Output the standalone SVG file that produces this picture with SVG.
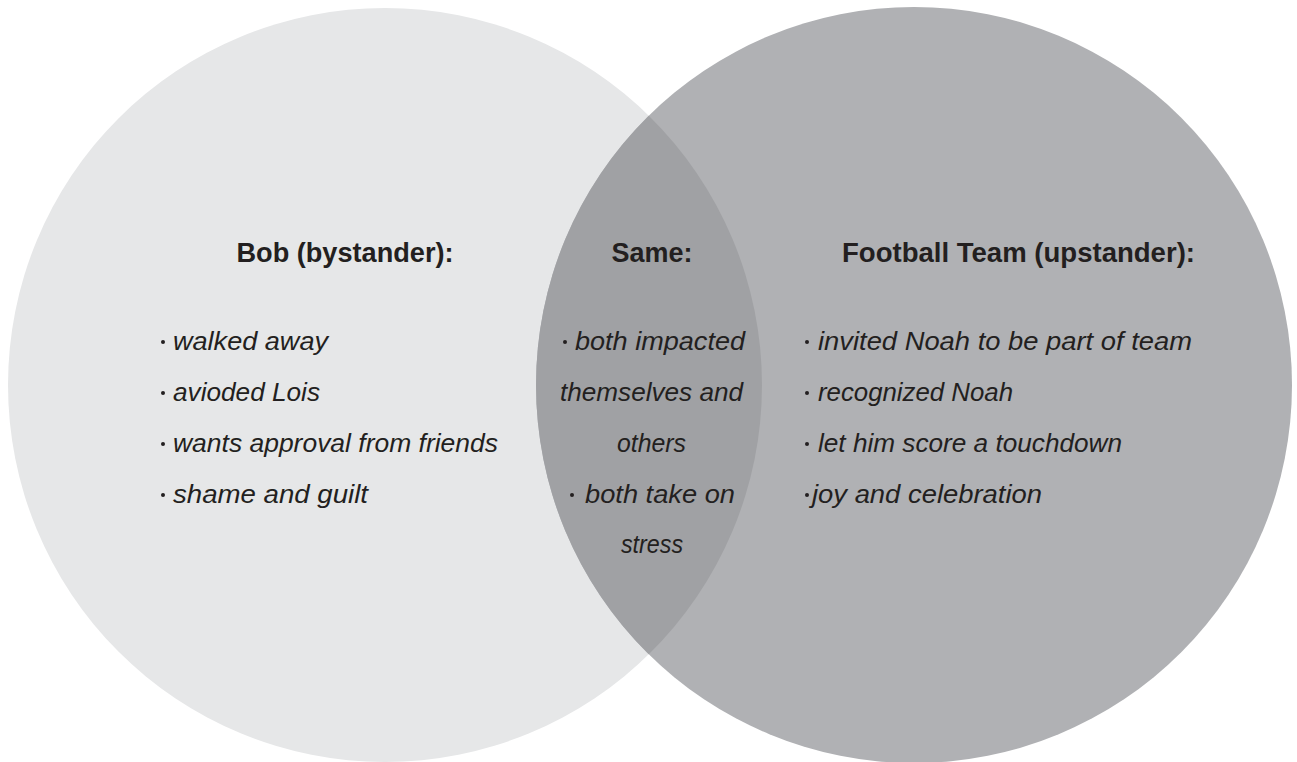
<svg xmlns="http://www.w3.org/2000/svg" width="1297" height="762" viewBox="0 0 1297 762">
<style>
.head{font-family:"Liberation Sans",Arial,sans-serif;font-weight:bold;font-size:27px;fill:#231f20}
.hand{font-family:"Liberation Sans",Arial,sans-serif;font-style:italic;font-size:26px;fill:#231f20}
.dot{fill:#231f20}
</style>
<rect width="1297" height="762" fill="#ffffff"/>
<g id="bob">
<circle cx="385" cy="385" r="377" fill="#e6e7e8"/>
</g>
<g id="team">
<circle cx="914" cy="385" r="378" fill="#b0b1b4"/>
</g>
<g id="same">
<path d="M648.8 115.7 A377 377 0 0 1 648.8 654.3 A378 378 0 0 1 648.8 115.7 Z" fill="#a0a1a4"/>
</g>
<g id="connectors"></g>
<g id="bob-text">
<text class="head" x="236.5" y="262" textLength="217" lengthAdjust="spacingAndGlyphs">Bob (bystander):</text>
<circle class="dot" cx="163" cy="342" r="2"/>
<text class="hand" x="173" y="350" textLength="155" lengthAdjust="spacingAndGlyphs">walked away</text>
<circle class="dot" cx="163" cy="393" r="2"/>
<text class="hand" x="173" y="401" textLength="147" lengthAdjust="spacingAndGlyphs">avioded Lois</text>
<circle class="dot" cx="163" cy="444" r="2"/>
<text class="hand" x="173" y="452" textLength="325" lengthAdjust="spacingAndGlyphs">wants approval from friends</text>
<circle class="dot" cx="163" cy="495" r="2"/>
<text class="hand" x="173" y="503" textLength="195" lengthAdjust="spacingAndGlyphs">shame and guilt</text>
</g>
<g id="same-text">
<text class="head" x="611.5" y="262" textLength="81" lengthAdjust="spacingAndGlyphs">Same:</text>
<circle class="dot" cx="565" cy="342" r="2"/>
<text class="hand" x="575" y="350" textLength="170" lengthAdjust="spacingAndGlyphs">both impacted</text>
<text class="hand" x="560" y="401" textLength="183" lengthAdjust="spacingAndGlyphs">themselves and</text>
<text class="hand" x="617" y="452" textLength="69" lengthAdjust="spacingAndGlyphs">others</text>
<circle class="dot" cx="572" cy="495" r="2"/>
<text class="hand" x="585" y="503" textLength="150" lengthAdjust="spacingAndGlyphs">both take on</text>
<text class="hand" x="621" y="553" textLength="62" lengthAdjust="spacingAndGlyphs">stress</text>
</g>
<g id="team-text">
<text class="head" x="842" y="262" textLength="353" lengthAdjust="spacingAndGlyphs">Football Team (upstander):</text>
<circle class="dot" cx="807" cy="342" r="2"/>
<text class="hand" x="818" y="350" textLength="374" lengthAdjust="spacingAndGlyphs">invited Noah to be part of team</text>
<circle class="dot" cx="807" cy="393" r="2"/>
<text class="hand" x="818" y="401" textLength="195" lengthAdjust="spacingAndGlyphs">recognized Noah</text>
<circle class="dot" cx="807" cy="444" r="2"/>
<text class="hand" x="818" y="452" textLength="304" lengthAdjust="spacingAndGlyphs">let him score a touchdown</text>
<circle class="dot" cx="807" cy="495" r="2"/>
<text class="hand" x="812" y="503" textLength="230" lengthAdjust="spacingAndGlyphs">joy and celebration</text>
</g>
</svg>
